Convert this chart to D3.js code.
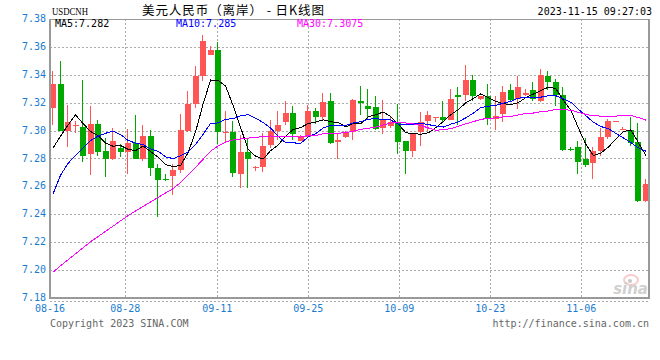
<!DOCTYPE html>
<html>
<head>
<meta charset="utf-8">
<script src="https://cdn.jsdelivr.net/npm/d3@7"></script>
<style>
  body { margin: 0; background: #fff; }
  svg { display: block; }
</style>
</head>
<body>
<div id="chart"></div>
<script>
// USDCNH daily candles, one entry per trading session (08-16 .. 11-15)
const open = [7.3162, 7.3333, 7.3000, 7.3036, 7.3024, 7.2831, 7.3050, 7.2857, 7.2793, 7.2876,
  7.2845, 7.2912, 7.2800, 7.2964, 7.2729, 7.2652, 7.2674, 7.2714, 7.3000, 7.3190,
  7.3388, 7.3543, 7.3579, 7.2988, 7.2993, 7.2686, 7.2850, 7.2740, 7.2738, 7.2895,
  7.3000, 7.3060, 7.3126, 7.2929, 7.2952, 7.3143, 7.3095, 7.3214, 7.2917, 7.2952,
  7.2988, 7.3214, 7.3179, 7.3171, 7.3019, 7.3036, 7.3062, 7.2924, 7.2852, 7.2990,
  7.3071, 7.3098, 7.3100, 7.3079, 7.3252, 7.3257, 7.3360, 7.3226, 7.3245, 7.3086,
  7.3121, 7.3293, 7.3229, 7.3255, 7.3293, 7.3214, 7.3393, 7.3348, 7.3257, 7.2867,
  7.2883, 7.2800, 7.2767, 7.2852, 7.2952, 7.3067, 7.3002, 7.3007, 7.2917, 7.2495];
const high = [7.3429, 7.3500, 7.3186, 7.3071, 7.3364, 7.3174, 7.3079, 7.2948, 7.3019, 7.2907,
  7.3012, 7.3110, 7.3043, 7.3005, 7.2762, 7.2686, 7.2757, 7.3119, 7.3281, 7.3464,
  7.3686, 7.3610, 7.3638, 7.3143, 7.3067, 7.2971, 7.2948, 7.2743, 7.2983, 7.3079,
  7.3143, 7.3214, 7.3174, 7.2966, 7.3186, 7.3162, 7.3269, 7.3269, 7.2983, 7.3000,
  7.3229, 7.3317, 7.3300, 7.3250, 7.3221, 7.3100, 7.3193, 7.2924, 7.2983, 7.3133,
  7.3143, 7.3100, 7.3214, 7.3300, 7.3310, 7.3471, 7.3400, 7.3248, 7.3333, 7.3245,
  7.3317, 7.3336, 7.3393, 7.3298, 7.3350, 7.3443, 7.3429, 7.3371, 7.3314, 7.2881,
  7.2929, 7.2948, 7.2881, 7.3019, 7.3081, 7.3069, 7.3029, 7.3100, 7.3055, 7.2650];
const low = [7.3038, 7.2995, 7.2881, 7.2981, 7.2774, 7.2681, 7.2817, 7.2667, 7.2788, 7.2810,
  7.2686, 7.2800, 7.2781, 7.2674, 7.2381, 7.2638, 7.2538, 7.2698, 7.2990, 7.3162,
  7.3352, 7.3543, 7.2907, 7.2912, 7.2667, 7.2590, 7.2586, 7.2710, 7.2702, 7.2876,
  7.2936, 7.3043, 7.2936, 7.2929, 7.2948, 7.3048, 7.3067, 7.2905, 7.2800, 7.2948,
  7.2936, 7.3114, 7.3079, 7.3007, 7.2976, 7.3019, 7.2829, 7.2690, 7.2810, 7.2888,
  7.3000, 7.3062, 7.3062, 7.3074, 7.3043, 7.3210, 7.3214, 7.3221, 7.3043, 7.3007,
  7.3060, 7.3214, 7.3152, 7.3245, 7.3210, 7.3205, 7.3293, 7.3174, 7.2852, 7.2857,
  7.2686, 7.2738, 7.2650, 7.2817, 7.2943, 7.3067, 7.3002, 7.2888, 7.2490, 7.2490];
const close = [7.3333, 7.3000, 7.3064, 7.3040, 7.2817, 7.3050, 7.2850, 7.2793, 7.2929, 7.2845,
  7.2912, 7.2800, 7.2964, 7.2729, 7.2645, 7.2648, 7.2721, 7.3007, 7.3193, 7.3393,
  7.3643, 7.3579, 7.2988, 7.2992, 7.2695, 7.2850, 7.2800, 7.2742, 7.2893, 7.3000,
  7.3043, 7.3126, 7.2979, 7.2964, 7.3143, 7.3095, 7.3205, 7.2910, 7.2936, 7.2983,
  7.3221, 7.3195, 7.3157, 7.3014, 7.3079, 7.3060, 7.2919, 7.2852, 7.2979, 7.3062,
  7.3110, 7.3100, 7.3074, 7.3229, 7.3238, 7.3360, 7.3250, 7.3245, 7.3086, 7.3107,
  7.3276, 7.3221, 7.3314, 7.3269, 7.3229, 7.3400, 7.3348, 7.3252, 7.2860, 7.2862,
  7.2774, 7.2752, 7.2857, 7.2957, 7.3071, 7.3069, 7.3014, 7.2912, 7.2495, 7.2619];

// moving averages as drawn on the chart
const ma5 = [7.2875, 7.2960, 7.3040, 7.3112, 7.3051, 7.2994, 7.2964, 7.2910, 7.2888, 7.2893,
  7.2866, 7.2856, 7.2890, 7.2850, 7.2810, 7.2757, 7.2741, 7.2750, 7.2843, 7.2992,
  7.3191, 7.3363, 7.3359, 7.3319, 7.3179, 7.3021, 7.2865, 7.2816, 7.2796, 7.2857,
  7.2896, 7.2961, 7.3008, 7.3022, 7.3051, 7.3061, 7.3077, 7.3063, 7.3058, 7.3026,
  7.3051, 7.3049, 7.3098, 7.3114, 7.3133, 7.3101, 7.3046, 7.2985, 7.2978, 7.2974,
  7.2984, 7.3021, 7.3065, 7.3115, 7.3150, 7.3200, 7.3230, 7.3264, 7.3236, 7.3210,
  7.3193, 7.3187, 7.3201, 7.3237, 7.3262, 7.3287, 7.3312, 7.3300, 7.3218, 7.3144,
  7.3019, 7.2900, 7.2821, 7.2840, 7.2882, 7.2941, 7.2994, 7.3005, 7.2912, 7.2822];
const ma10 = [7.2545, 7.2680, 7.2765, 7.2821, 7.2876, 7.2929, 7.2960, 7.2981, 7.2995, 7.2972,
  7.2930, 7.2910, 7.2900, 7.2869, 7.2852, 7.2812, 7.2799, 7.2820, 7.2846, 7.2901,
  7.2974, 7.3052, 7.3055, 7.3081, 7.3086, 7.3106, 7.3114, 7.3088, 7.3058, 7.3018,
  7.2958, 7.2913, 7.2912, 7.2909, 7.2954, 7.2979, 7.3019, 7.3036, 7.3040, 7.3038,
  7.3056, 7.3063, 7.3081, 7.3086, 7.3080, 7.3076, 7.3047, 7.3042, 7.3046, 7.3054,
  7.3043, 7.3033, 7.3025, 7.3046, 7.3062, 7.3092, 7.3125, 7.3165, 7.3175, 7.3180,
  7.3197, 7.3209, 7.3233, 7.3237, 7.3236, 7.3240, 7.3250, 7.3250, 7.3228, 7.3203,
  7.3153, 7.3106, 7.3060, 7.3029, 7.3013, 7.2980, 7.2947, 7.2913, 7.2876, 7.2852];
const ma30 = [7.1985, 7.2031, 7.2074, 7.2117, 7.2160, 7.2203, 7.2240, 7.2278, 7.2315, 7.2353,
  7.2390, 7.2424, 7.2456, 7.2489, 7.2520, 7.2553, 7.2584, 7.2628, 7.2682, 7.2737,
  7.2795, 7.2853, 7.2890, 7.2918, 7.2933, 7.2940, 7.2946, 7.2952, 7.2957, 7.2962,
  7.2954, 7.2958, 7.2956, 7.2953, 7.2964, 7.2965, 7.2977, 7.2981, 7.2981, 7.2986,
  7.2996, 7.3009, 7.3016, 7.3025, 7.3040, 7.3054, 7.3060, 7.3055, 7.3048, 7.3037,
  7.3019, 7.3003, 7.3006, 7.3014, 7.3032, 7.3049, 7.3064, 7.3081, 7.3087, 7.3091,
  7.3099, 7.3102, 7.3113, 7.3123, 7.3126, 7.3136, 7.3141, 7.3152, 7.3150, 7.3146,
  7.3131, 7.3116, 7.3106, 7.3104, 7.3104, 7.3104, 7.3107, 7.3109, 7.3093, 7.3075];

// date labels along the bottom and the session index they sit at
const tickLabels = ["08-16", "08-28", "09-11", "09-25", "10-09", "10-23", "11-06"];
const tickIndex = [-0.4, 9.63, 21.89, 34.01, 46.14, 58.26, 70.38];

const width = 660, height = 360;
const marginTop = 19, marginRight = 11, marginBottom = 62, marginLeft = 50;
const mono = "'DejaVu Sans Mono', monospace";
const red = "#ff5555", green = "#00a800", labelBlue = "#1a7ccf";

const x = d3.scaleLinear().domain([-0.4, 79.4]).range([marginLeft, width - marginRight]);
const y = d3.scaleLinear().domain([7.18, 7.38]).range([height - marginBottom, marginTop]);

const svg = d3.select("#chart").append("svg")
  .attr("width", width)
  .attr("height", height)
  .attr("viewBox", [0, 0, width, height]);

// grid
const grid = svg.append("g")
  .attr("stroke", "#aaa")
  .attr("stroke-dasharray", "2,2")
  .attr("shape-rendering", "crispEdges");
grid.selectAll(".h").data(y.ticks(10)).join("line")
  .attr("x1", marginLeft).attr("x2", width - marginRight)
  .attr("y1", d => Math.round(y(d)) + 0.5).attr("y2", d => Math.round(y(d)) + 0.5);
grid.selectAll(".v").data(tickIndex.slice(1)).join("line")
  .attr("x1", d => Math.round(x(d)) + 0.5).attr("x2", d => Math.round(x(d)) + 0.5)
  .attr("y1", marginTop).attr("y2", height - marginBottom);
grid.append("line")
  .attr("x1", marginLeft).attr("x2", width - marginRight)
  .attr("y1", height - marginBottom + 3.5).attr("y2", height - marginBottom + 3.5);

// y labels
svg.append("g")
  .attr("font-family", mono).attr("font-size", 10).attr("fill", labelBlue)
  .attr("text-anchor", "end")
  .selectAll("text").data(y.ticks(10)).join("text")
  .attr("x", marginLeft - 4)
  .attr("y", d => y(d) + 3)
  .text(d => d3.format(".2f")(d));

// x labels
svg.append("g")
  .attr("font-family", mono).attr("font-size", 10).attr("fill", labelBlue)
  .attr("text-anchor", "middle")
  .selectAll("text").data(tickLabels).join("text")
  .attr("x", (d, i) => x(tickIndex[i]))
  .attr("y", height - marginBottom + 14)
  .text(d => d);

// sina watermark
const logo = svg.append("g").attr("opacity", 0.55);
logo.append("ellipse").attr("cx", 631).attr("cy", 280).attr("rx", 7).attr("ry", 5)
  .attr("fill", "none").attr("stroke", "#f2a0a0").attr("stroke-width", 2);
logo.append("circle").attr("cx", 630).attr("cy", 281).attr("r", 2).attr("fill", "#999");
logo.append("text").attr("x", 648).attr("y", 294).attr("text-anchor", "end")
  .attr("font-family", "'DejaVu Sans', sans-serif").attr("font-size", 15)
  .attr("font-weight", "bold").attr("font-style", "italic").attr("fill", "#aaa")
  .text("sina");

// candles
const idx = d3.range(close.length);
const candles = svg.append("g").attr("shape-rendering", "crispEdges")
  .selectAll("g").data(idx).join("g")
  .attr("fill", i => close[i] >= open[i] ? red : green)
  .attr("stroke", i => close[i] >= open[i] ? red : green);
candles.append("line")
  .attr("x1", i => Math.round(x(i)) - 0.5).attr("x2", i => Math.round(x(i)) - 0.5)
  .attr("y1", i => y(high[i])).attr("y2", i => y(low[i]));
candles.append("rect")
  .attr("stroke", "none")
  .attr("x", i => Math.round(x(i)) - 3)
  .attr("width", 6)
  .attr("y", i => y(Math.max(open[i], close[i])))
  .attr("height", i => Math.max(1, Math.abs(y(open[i]) - y(close[i]))));

// moving averages (aliased 1px lines like the original)
const line = d3.line().x((d, i) => x(i)).y(d => y(d));
[[ma5, "#000"], [ma10, "#0000ff"], [ma30, "#ff00ff"]].forEach(([s, c]) => {
  svg.append("path").attr("d", line(s))
    .attr("fill", "none").attr("stroke", c).attr("stroke-width", 1)
    .attr("shape-rendering", "crispEdges");
});

// frame
svg.append("g").attr("fill", "none").attr("stroke", "#999").attr("shape-rendering", "crispEdges")
  .call(g => g.append("line").attr("x1", marginLeft).attr("x2", width - marginRight)
    .attr("y1", marginTop).attr("y2", marginTop).attr("stroke-width", 1))
  .call(g => g.append("line").attr("x1", marginLeft).attr("x2", marginLeft)
    .attr("y1", marginTop).attr("y2", height - marginBottom + 1).attr("stroke-width", 2))
  .call(g => g.append("line").attr("x1", width - marginRight).attr("x2", width - marginRight)
    .attr("y1", marginTop).attr("y2", height - marginBottom + 1).attr("stroke-width", 1.5))
  .call(g => g.append("line").attr("x1", marginLeft).attr("x2", width - marginRight)
    .attr("y1", height - marginBottom).attr("y2", height - marginBottom).attr("stroke-width", 2));

// header
svg.append("text").attr("x", 52).attr("y", 15)
  .attr("font-family", "'Liberation Serif', serif").attr("font-size", 11)
  .attr("textLength", 36).attr("lengthAdjust", "spacingAndGlyphs")
  .text("USDCNH");
svg.append("text").attr("x", 142).attr("y", 15)
  .attr("font-family", "'Noto Sans CJK SC', sans-serif").attr("font-size", 12.5)
  .attr("textLength", 182).attr("lengthAdjust", "spacing")
  .text("美元人民币（离岸） - 日K线图");
svg.append("text").attr("x", 652).attr("y", 15).attr("text-anchor", "end")
  .attr("font-family", mono).attr("font-size", 10)
  .text("2023-11-15 09:27:03");

// MA legend
const legend = [["MA5:7.282", "#000", 55], ["MA10:7.285", "#0000ff", 176], ["MA30:7.3075", "#ff00ff", 297]];
svg.append("g").attr("font-family", mono).attr("font-size", 10)
  .selectAll("text").data(legend).join("text")
  .attr("x", d => d[2]).attr("y", 27)
  .attr("fill", d => d[1])
  .text(d => d[0]);

// footer
svg.append("text").attr("x", marginLeft).attr("y", 327)
  .attr("font-family", mono).attr("font-size", 10).attr("fill", "#666")
  .text("Copyright 2023 SINA.COM");
svg.append("text").attr("x", width - marginRight).attr("y", 327).attr("text-anchor", "end")
  .attr("font-family", mono).attr("font-size", 10).attr("fill", "#666")
  .text("http://finance.sina.com.cn");
</script>
</body>
</html>
